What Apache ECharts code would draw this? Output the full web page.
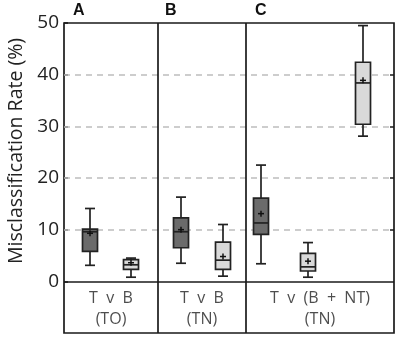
<!DOCTYPE html>
<html>
<head>
<meta charset="utf-8">
<script src="https://cdn.jsdelivr.net/npm/echarts@6/dist/echarts.min.js"></script>
<style>
  html, body { margin: 0; padding: 0; background: #fff; }
  #chart { width: 397px; height: 337px; }
</style>
</head>
<body>
<div id="chart"></div>
<script>
// panels and their x-axis text
const panels = ["A", "B", "C"];
const comparisons = ["T  v  B", "T  v  B", "T  v  (B  +  NT)"];
const datasets = ["(TO)", "(TN)", "(TN)"];

// box plots, left to right
const boxShade = ["dark", "light", "dark", "light", "dark", "light", "light"];
const whiskerLow = [3.1, 0.8, 3.5, 1.0, 3.4, 0.8, 28.1];
const q1 = [5.8, 2.3, 6.5, 2.3, 9.1, 2.0, 30.4];
const median = [9.6, 3.2, 9.6, 4.1, 11.3, 2.8, 38.4];
const q3 = [10.1, 4.2, 12.3, 7.6, 16.1, 5.4, 42.4];
const whiskerHigh = [14.1, 4.5, 16.3, 11.0, 22.5, 7.5, 49.5];
const means = [9.3, 3.6, 10.0, 4.8, 13.1, 3.9, 38.9];

const yTicks = [0, 10, 20, 30, 40, 50];

// layout along the (hidden) x axis
const boxX = [26, 67, 117, 159, 197, 244, 299];
const panelEdges = [0, 94, 182, 330];

const chart = echarts.init(document.getElementById("chart"));
const font = "'Open Sans', 'Noto Sans', sans-serif";

const boxData = boxX.map((x, i) => [x, whiskerLow[i], q1[i], median[i], q3[i], whiskerHigh[i], means[i], boxShade[i] === "dark" ? 1 : 0]);

function renderBox(params, api) {
  const x = api.value(0);
  const p = (v) => api.coord([x, v]);
  const cx = p(0)[0];
  const half = 7.5, cap = 5, pl = 3;
  const yLo = p(api.value(1))[1], yQ1 = p(api.value(2))[1], yMed = p(api.value(3))[1];
  const yQ3 = p(api.value(4))[1], yHi = p(api.value(5))[1], yMean = p(api.value(6))[1];
  const fill = api.value(7) ? "#6b6b6b" : "#d9d9d9";
  const stroke = { stroke: "#222", lineWidth: 1.7, fill: null };
  return {
    type: "group",
    children: [
      { type: "line", shape: { x1: cx, y1: yHi, x2: cx, y2: yQ3 }, style: stroke },
      { type: "line", shape: { x1: cx, y1: yQ1, x2: cx, y2: yLo }, style: stroke },
      { type: "line", shape: { x1: cx - cap, y1: yHi, x2: cx + cap, y2: yHi }, style: stroke },
      { type: "line", shape: { x1: cx - cap, y1: yLo, x2: cx + cap, y2: yLo }, style: stroke },
      { type: "rect", shape: { x: cx - half, y: yQ3, width: half * 2, height: yQ1 - yQ3 },
        style: { fill: fill, stroke: "#222", lineWidth: 1.7 } },
      { type: "line", shape: { x1: cx - half, y1: yMed, x2: cx + half, y2: yMed }, style: stroke },
      { type: "line", shape: { x1: cx - pl, y1: yMean, x2: cx + pl, y2: yMean }, style: { stroke: "#111", lineWidth: 1.5 } },
      { type: "line", shape: { x1: cx, y1: yMean - pl, x2: cx, y2: yMean + pl }, style: { stroke: "#111", lineWidth: 1.5 } }
    ]
  };
}

const panelCenters = panels.map((_, i) => (panelEdges[i] + panelEdges[i + 1]) / 2);
const labelData = [];
panels.forEach((_, i) => {
  labelData.push({ value: [panelCenters[i], -3.3], label: { formatter: comparisons[i] } });
  labelData.push({ value: [panelCenters[i], -7.4], label: { formatter: datasets[i] } });
});

const option = {
  animation: false,
  grid: {
    left: 64, right: 3, top: 23, bottom: 4, outerBoundsMode: "none", containLabel: false,
    show: true, borderColor: "#1a1a1a", borderWidth: 1.7, backgroundColor: "transparent"
  },
  xAxis: {
    type: "value", min: 0, max: 330, show: false
  },
  yAxis: [
    {
      type: "value", min: -10, max: 50, interval: 10,
      name: "Misclassification Rate (%)", nameLocation: "middle", nameGap: 36,
      nameTextStyle: { fontFamily: font, fontSize: 19.5, color: "#222", padding: [0, 0, 0, 54] },
      axisLine: { show: false },
      axisTick: { show: true, inside: true, length: 4, customValues: yTicks, lineStyle: { color: "#1a1a1a", width: 1.5 } },
      axisLabel: { customValues: yTicks, fontFamily: font, fontSize: 19, color: "#222", margin: 5 },
      splitLine: { show: false }
    },
    {
      type: "value", min: -10, max: 50, interval: 10, position: "right",
      axisLine: { show: false },
      axisTick: { show: true, inside: true, length: 4, customValues: [10, 20, 30, 40], lineStyle: { color: "#1a1a1a", width: 1.5 } },
      axisLabel: { show: false },
      splitLine: { show: false }
    }
  ],
  graphic: panels.map((t, i) => ({
    type: "text",
    left: [73, 165, 255][i], top: 3,
    style: { text: t, fontSize: 16, fontWeight: "bold", fontFamily: "Liberation Sans", fill: "#111" }
  })),
  series: [
    {
      type: "line", data: [], silent: true,
      markLine: {
        symbol: "none", silent: true, label: { show: false },
        data: [10, 20, 30, 40].map((v) => ({ yAxis: v, lineStyle: { color: "#bdbdbd", type: [6, 5], width: 1.7 } }))
          .concat([{ yAxis: 0, lineStyle: { color: "#1a1a1a", type: "solid", width: 1.7 } }])
          .concat(panelEdges.slice(1, 3).map((x) => ({ xAxis: x, lineStyle: { color: "#1a1a1a", type: "solid", width: 1.7 } })))
      }
    },
    {
      type: "custom", renderItem: renderBox, data: boxData, z: 5,
      encode: { x: 0, y: [1, 5] }
    },
    {
      type: "scatter", symbolSize: 0, data: labelData, silent: true,
      label: { show: true, position: "inside", fontFamily: font, fontSize: 16, color: "#222" }
    }
  ]
};

chart.setOption(option);
</script>
</body>
</html>
